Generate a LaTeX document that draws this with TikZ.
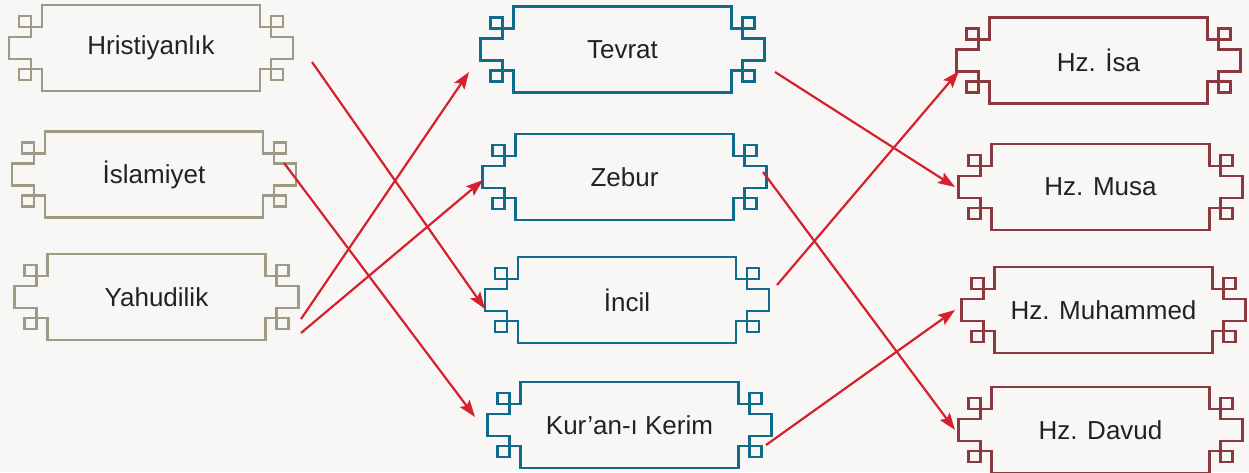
\documentclass[tikz,border=0pt]{standalone}
\usepackage{fontspec}
\setmainfont{Liberation Sans}
\usetikzlibrary{arrows.meta,calc}
\definecolor{bgc}{HTML}{F8F7F6}
\definecolor{grayc}{HTML}{9C9B84}
\definecolor{tealc}{HTML}{0E6C8C}
\definecolor{maroonc}{HTML}{8A3A3F}
\definecolor{redc}{HTML}{D7202E}
\definecolor{txtc}{HTML}{222222}
\tikzset{
  x=1pt, y=-1pt,
  boxtext/.style={draw=none, minimum width=284pt, minimum height=86pt, inner sep=0pt,
    text=txtc, font=\fontsize{26}{30}\selectfont},
  frame/.pic={
    \draw[line width=2.7pt, line join=miter]
      (-109,-43) -- (109,-43) -- (109,-21) -- (120,-21) -- (120,-11) -- (142,-11)
      -- (142,11) -- (120,11) -- (120,21) -- (109,21) -- (109,43) -- (-109,43)
      -- (-109,21) -- (-120,21) -- (-120,11) -- (-142,11) -- (-142,-11) -- (-120,-11)
      -- (-120,-21) -- (-109,-21) -- cycle;
    \draw[line width=2.7pt] (-132,-32) rectangle (-120,-21);
    \draw[line width=2.7pt] (-132,21) rectangle (-120,32);
    \draw[line width=2.7pt] (120,-32) rectangle (132,-21);
    \draw[line width=2.7pt] (120,21) rectangle (132,32);
  },
  arr/.style={draw=redc, line width=2.2pt, -{Stealth[length=17pt,width=12pt,inset=3pt]}}
}
\newcommand{\ornbox}[5]{%
  \node[boxtext] (#1) at (#2,#3) {#5};
  \pic[draw=#4] at (#2,#3) {frame};
}
\begin{document}
\begin{tikzpicture}
\useasboundingbox (0,0) rectangle (1249,472);
\clip (0,0) rectangle (1249,472);
\fill[bgc] (0,0) rectangle (1249,472);

\ornbox{hris}{151}{48}{grayc}{Hristiyanlık}
\ornbox{islam}{154}{174.5}{grayc}{İslamiyet}
\ornbox{yahud}{156.5}{297}{grayc}{Yahudilik}

\ornbox{tevrat}{622.5}{49.5}{tealc}{Tevrat}
\ornbox{zebur}{624.5}{177}{tealc}{Zebur}
\ornbox{incil}{627}{300}{tealc}{İncil}
\ornbox{kuran}{629.5}{425}{tealc}{Kur’an-ı Kerim}

\ornbox{isa}{1098.5}{60.5}{maroonc}{Hz. İsa}
\ornbox{musa}{1100.5}{187}{maroonc}{Hz. Musa}
\ornbox{muhammed}{1103.5}{310}{maroonc}{Hz. Muhammed}
\ornbox{davud}{1100.5}{430}{maroonc}{Hz. Davud}

\draw[arr] ($(hris.center)+(161,14)$) -- ($(incil.center)+(-142,9)$);
\draw[arr] ($(islam.center)+(130,-11.5)$) -- ($(kuran.center)+(-154.5,-8)$);
\draw[arr] ($(yahud.center)+(144.5,22)$) -- ($(tevrat.center)+(-153.5,22.5)$);
\draw[arr] ($(yahud.center)+(144.5,36)$) -- ($(zebur.center)+(-141.5,3)$);
\draw[arr] ($(tevrat.center)+(152.5,22.5)$) -- ($(musa.center)+(-145.5,0)$);
\draw[arr] ($(zebur.center)+(138.5,-5)$) -- ($(davud.center)+(-145.5,0)$);
\draw[arr] ($(incil.center)+(150,-15)$) -- ($(isa.center)+(-139.5,10.5)$);
\draw[arr] ($(kuran.center)+(136.5,20)$) -- ($(muhammed.center)+(-148.5,0)$);
\end{tikzpicture}
\end{document}
